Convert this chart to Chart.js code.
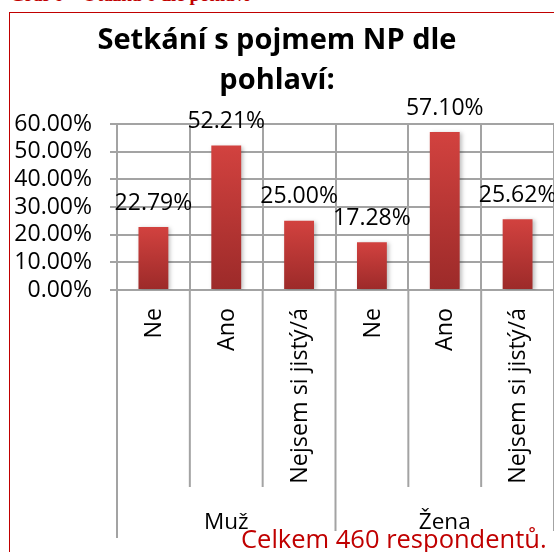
<!DOCTYPE html>
<html lang="cs">
<head>
<meta charset="utf-8">
<title>Setkání s pojmem NP dle pohlaví</title>
<script src="https://cdn.jsdelivr.net/npm/chart.js@4.4.1/dist/chart.umd.min.js"></script>
<style>
  body { margin: 0; background: #fff; }
  #wrap { position: relative; width: 554px; height: 552px; overflow: hidden; }
  #chart { position: absolute; left: 0; top: 0; }
  .hdr {
    position: absolute; left: 10px; top: -15px; white-space: nowrap;
    font: bold 19px/19px "Liberation Serif", serif; color: #c00000;
  }
  .frame {
    position: absolute; left: 9px; top: 12px; width: 700px; height: 700px;
    border-left: 1px solid #c00000; border-top: 1px solid #c00000;
  }
  /* textové pole s poznámkou, bílé pozadí překrývá čáru osy */
  .note {
    position: absolute; left: 236px; top: 531px; width: 330px; height: 30px;
    padding-left: 5px; background: #fff; white-space: nowrap;
    font: 25.5px/14px "Open Sans", sans-serif; color: #c00000;
  }
</style>
</head>
<body>
<div id="wrap">
  <div class="hdr">Graf 6 – Otázka 6 dle pohlaví</div>
  <div class="frame"></div>
  <canvas id="chart" width="554" height="552"></canvas>
  <div class="note">Celkem 460 respondentů.</div>
</div>
<script>
// data ze sloupcového grafu
const categories = ['Ne', 'Ano', 'Nejsem si jistý/á', 'Ne', 'Ano', 'Nejsem si jistý/á'];
const groups = ['Muž', 'Žena'];
const values = [22.79, 52.21, 25.00, 17.28, 57.10, 25.62];
const yMax = 60;
const yStep = 10;

const gridColor = '#a3a3a3';
const font = 'Open Sans';

// popisky hodnot nad sloupci + lehký stín
const valueLabels = {
    id: 'valueLabels',
    beforeDatasetsDraw(chart) {
        const c = chart.ctx;
        c.save();
        c.shadowColor = 'rgba(0,0,0,0.25)';
        c.shadowBlur = 4;
        c.shadowOffsetX = 2;
        c.shadowOffsetY = 1;
    },
    afterDatasetsDraw(chart) {
        const c = chart.ctx;
        c.restore();
        c.save();
        c.font = '23px "' + font + '"';
        c.fillStyle = '#000';
        c.textAlign = 'center';
        c.textBaseline = 'middle';
        chart.getDatasetMeta(0).data.forEach((bar, i) => {
            c.fillText(values[i].toFixed(2) + '%', bar.x, bar.y - 24);
        });
        c.restore();
    }
};

// dvouúrovňová osa x: svislé popisky, oddělovače a skupiny (Muž / Žena)
const groupAxis = {
    id: 'groupAxis',
    afterDraw(chart) {
        const x = chart.scales.x;
        const area = chart.chartArea;
        const c = chart.ctx;
        const per = categories.length / groups.length;
        const half = (x.getPixelForValue(1) - x.getPixelForValue(0)) / 2;
        c.save();
        c.strokeStyle = gridColor;
        c.lineWidth = 2;
        for (let i = 0; i <= categories.length; i++) {
            const px = i < categories.length ? x.getPixelForValue(i) - half : x.getPixelForValue(i - 1) + half;
            const len = i % per === 0 ? 248 : 197;
            c.beginPath();
            c.moveTo(px, area.bottom);
            c.lineTo(px, area.bottom + len);
            c.stroke();
        }
        c.fillStyle = '#000';
        c.font = '23.3px "' + font + '"';
        c.textAlign = 'right';
        c.textBaseline = 'middle';
        categories.forEach((lab, i) => {
            c.save();
            c.translate(x.getPixelForValue(i) + 1, area.bottom + 18);
            c.rotate(-Math.PI / 2);
            c.fillText(lab, 0, 0);
            c.restore();
        });
        c.font = '22.5px "' + font + '"';
        c.textAlign = 'center';
        groups.forEach((g, k) => {
            const mid = (x.getPixelForValue(k * per) + x.getPixelForValue(k * per + per - 1)) / 2;
            c.fillText(g, mid, area.bottom + 233);
        });
        c.restore();
    }
};

function barGradient(ctx) {
    const chart = ctx.chart;
    const y = chart.scales.y;
    if (!y || ctx.parsed === undefined) return '#c23a38';
    const top = y.getPixelForValue(ctx.parsed.y);
    const bottom = y.getPixelForValue(0);
    if (!isFinite(top) || !isFinite(bottom) || top === bottom) return '#c23a38';
    const g = chart.ctx.createLinearGradient(0, top, 0, bottom);
    g.addColorStop(0, '#d2423f');
    g.addColorStop(1, '#9c2a29');
    return g;
}

new Chart(document.getElementById('chart'), {
    type: 'bar',
    data: {
        labels: categories,
        datasets: [{
            data: values,
            backgroundColor: barGradient,
            borderWidth: 0,
            barPercentage: 0.41,
            categoryPercentage: 1
        }]
    },
    options: {
        responsive: false,
        animation: false,
        layout: { padding: { left: 0, right: 0, top: 0, bottom: 0 } },
        plugins: {
            legend: { display: false },
            tooltip: { enabled: false },
            title: {
                display: true,
                text: ['Setkání s pojmem NP dle', 'pohlaví:'],
                color: '#000',
                font: { family: font, size: 29, weight: 'bold', lineHeight: 1.38 },
                padding: { top: 21, bottom: 23 }
            }
        },
        scales: {
            x: {
                grid: { offset: true, color: gridColor, lineWidth: 2, drawTicks: false },
                border: { color: gridColor, width: 2 },
                ticks: { display: false },
                afterFit(scale) { scale.height = 262; }
            },
            y: {
                min: 0,
                max: yMax,
                grid: { color: gridColor, lineWidth: 2, tickLength: 7 },
                border: { color: gridColor, width: 2 },
                ticks: {
                    stepSize: yStep,
                    autoSkip: false,
                    color: '#000',
                    font: { family: font, size: 23 },
                    padding: 18,
                    callback: v => v.toFixed(2) + '%'
                },
                afterFit(scale) { scale.width = 117; }
            }
        }
    },
    plugins: [valueLabels, groupAxis]
});
</script>
</body>
</html>
